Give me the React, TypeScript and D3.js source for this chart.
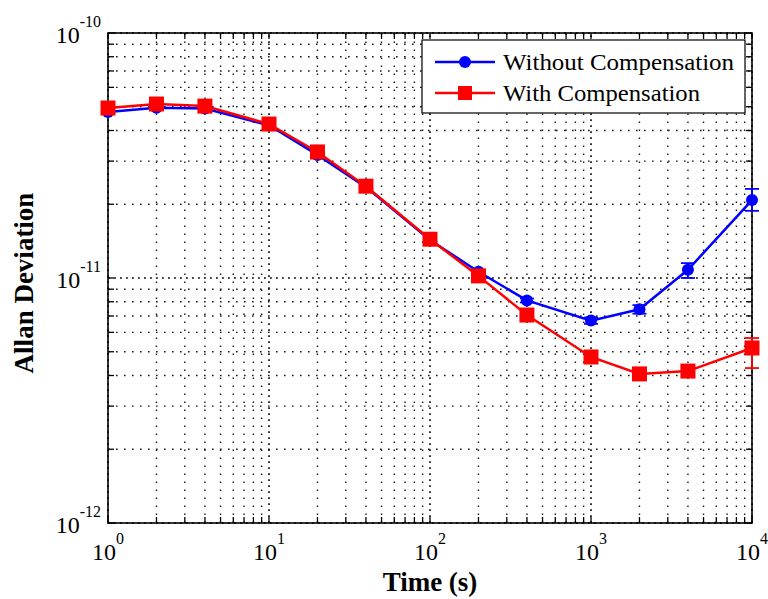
import React from "react";
import * as d3 from "d3";

const times = [1, 2, 4, 10, 20, 40, 100, 200, 400, 1000, 2000, 4000, 10000];
const withoutComp = [4.76e-11, 4.95e-11, 4.92e-11, 4.2e-11, 3.18e-11, 2.35e-11, 1.43e-11, 1.06e-11, 8.1e-12, 6.7e-12, 7.45e-12, 1.08e-11, 2.08e-11];
const withoutLow = [4.7e-11, 4.88e-11, 4.85e-11, 4.15e-11, 3.14e-11, 2.32e-11, 1.41e-11, 1.04e-11, 7.95e-12, 6.5e-12, 7.15e-12, 1.0e-11, 1.88e-11];
const withoutHigh = [4.82e-11, 5.02e-11, 4.99e-11, 4.25e-11, 3.22e-11, 2.38e-11, 1.45e-11, 1.08e-11, 8.25e-12, 6.9e-12, 7.75e-12, 1.15e-11, 2.31e-11];
const withComp = [4.94e-11, 5.13e-11, 5.03e-11, 4.25e-11, 3.27e-11, 2.37e-11, 1.44e-11, 1.02e-11, 7.06e-12, 4.76e-12, 4.06e-12, 4.17e-12, 5.18e-12];
const withLow = [4.88e-11, 5.07e-11, 4.97e-11, 4.2e-11, 3.23e-11, 2.34e-11, 1.42e-11, 1.0e-11, 6.95e-12, 4.65e-12, 3.95e-12, 4.02e-12, 4.29e-12];
const withHigh = [5.0e-11, 5.19e-11, 5.09e-11, 4.3e-11, 3.31e-11, 2.4e-11, 1.46e-11, 1.04e-11, 7.17e-12, 4.87e-12, 4.17e-12, 4.32e-12, 5.69e-12];
const xTickExps = [0, 1, 2, 3, 4];
const yTickExps = [-12, -11, -10];
const seriesNames = ["Without Compensation", "With Compensation"];
const xTitle = "Time (s)";
const yTitle = "Allan Deviation";

const W = 768, H = 599;
const L = 108, R = 752, T = 33, B = 523;

export default function App() {
  const x = d3.scaleLog().domain([1, 1e4]).range([L, R]);
  const y = d3.scaleLog().domain([1e-12, 1e-10]).range([B, T]);

  const xMinor: number[] = [];
  for (let d = 0; d < 4; d++) for (let k = 2; k <= 9; k++) xMinor.push(k * Math.pow(10, d));
  const yMinor: number[] = [];
  for (let d = -12; d < -10; d++) for (let k = 2; k <= 9; k++) yMinor.push(k * Math.pow(10, d));
  const xMajor = xTickExps.map((e) => Math.pow(10, e));
  const yMajor = yTickExps.map((e) => Math.pow(10, e));

  const line = d3
    .line<number>()
    .x((_, i) => x(times[i]))
    .y((v) => y(v));

  const serif = "'Liberation Serif', 'Times New Roman', serif";
  const blue = "#0000ff";
  const red = "#ff0000";

  const errBars = (vals: number[], lo: number[], hi: number[], color: string) =>
    times.map((t, i) => {
      const cx = x(t);
      return (
        <g key={"e" + i} stroke={color} strokeWidth={1.8} fill="none">
          <line x1={cx} x2={cx} y1={y(lo[i])} y2={y(hi[i])} />
          <line x1={cx - 7} x2={cx + 7} y1={y(lo[i])} y2={y(lo[i])} />
          <line x1={cx - 7} x2={cx + 7} y1={y(hi[i])} y2={y(hi[i])} />
        </g>
      );
    });

  return (
    <svg width={W} height={H} style={{ position: "absolute", left: 0, top: 0, background: "#fff" }}>
      <rect x={0} y={0} width={W} height={H} fill="#fff" />
      {/* grid */}
      <g stroke="#000" strokeWidth={1.4} strokeDasharray="1.6 6.4" fill="none" opacity={0.9}>
        {xMinor.map((v, i) => (
          <line key={"xm" + i} x1={x(v)} x2={x(v)} y1={B} y2={T} />
        ))}
        {yMinor.map((v, i) => (
          <line key={"ym" + i} x1={L} x2={R} y1={y(v)} y2={y(v)} />
        ))}
      </g>
      <g stroke="#000" strokeWidth={1.6} strokeDasharray="1.8 4.2" fill="none">
        {xMajor.map((v, i) => (
          <line key={"xM" + i} x1={x(v)} x2={x(v)} y1={B} y2={T} />
        ))}
        {yMajor.map((v, i) => (
          <line key={"yM" + i} x1={L} x2={R} y1={y(v)} y2={y(v)} />
        ))}
      </g>
      {/* ticks */}
      <g stroke="#000" strokeWidth={1.3}>
        {[...xMinor, ...xMajor].map((v, i) => (
          <g key={"xt" + i}>
            <line x1={x(v)} x2={x(v)} y1={B} y2={B - 6} />
            <line x1={x(v)} x2={x(v)} y1={T} y2={T + 6} />
          </g>
        ))}
        {[...yMinor, ...yMajor].map((v, i) => (
          <g key={"yt" + i}>
            <line x1={L} x2={L + 6} y1={y(v)} y2={y(v)} />
            <line x1={R} x2={R - 6} y1={y(v)} y2={y(v)} />
          </g>
        ))}
      </g>
      {/* frame */}
      <rect x={L} y={T} width={R - L} height={B - T} fill="none" stroke="#000" strokeWidth={1.6} />

      {/* series */}
      {errBars(withoutComp, withoutLow, withoutHigh, blue)}
      <path d={line(withoutComp) || ""} fill="none" stroke={blue} strokeWidth={2.5} />
      {times.map((t, i) => (
        <circle key={"b" + i} cx={x(t)} cy={y(withoutComp[i])} r={6} fill={blue} />
      ))}
      {errBars(withComp, withLow, withHigh, red)}
      <path d={line(withComp) || ""} fill="none" stroke={red} strokeWidth={2.5} />
      {times.map((t, i) => (
        <rect key={"r" + i} x={x(t) - 7.5} y={y(withComp[i]) - 7.5} width={15} height={15} fill={red} />
      ))}

      {/* x tick labels */}
      {xTickExps.map((e, i) => (
        <text key={"xl" + i} x={x(Math.pow(10, e))} y={560} textAnchor="middle" fontFamily={serif} fontSize={24} fill="#000">
          10
          <tspan fontSize={16} dy={-16}>{String(e)}</tspan>
        </text>
      ))}
      {/* y tick labels */}
      {yTickExps.map((e, i) => (
        <text key={"yl" + i} x={101} y={y(Math.pow(10, e)) + 9.5} textAnchor="end" fontFamily={serif} fontSize={24} fill="#000">
          10
          <tspan fontSize={16} dy={-16}>{String(e)}</tspan>
        </text>
      ))}

      {/* axis titles */}
      <text x={(L + R) / 2} y={591} textAnchor="middle" fontFamily={serif} fontWeight="bold" fontSize={27} fill="#000">
        {xTitle}
      </text>
      <text transform={`translate(33,283) rotate(-90)`} textAnchor="middle" fontFamily={serif} fontWeight="bold" fontSize={27} fill="#000">
        {yTitle}
      </text>

      {/* legend */}
      <rect x={422} y={40} width={323} height={73} fill="#fff" stroke="#000" strokeWidth={1.2} />
      <line x1={435} x2={495} y1={62} y2={62} stroke={blue} strokeWidth={2.5} />
      <circle cx={465} cy={62} r={6} fill={blue} />
      <text x={503} y={70} fontFamily={serif} fontSize={24} fill="#000" textLength={231} lengthAdjust="spacingAndGlyphs">
        {seriesNames[0]}
      </text>
      <line x1={435} x2={495} y1={93} y2={93} stroke={red} strokeWidth={2.5} />
      <rect x={458} y={86} width={14} height={14} fill={red} />
      <text x={503} y={101} fontFamily={serif} fontSize={24} fill="#000" textLength={197} lengthAdjust="spacingAndGlyphs">
        {seriesNames[1]}
      </text>
    </svg>
  );
}
